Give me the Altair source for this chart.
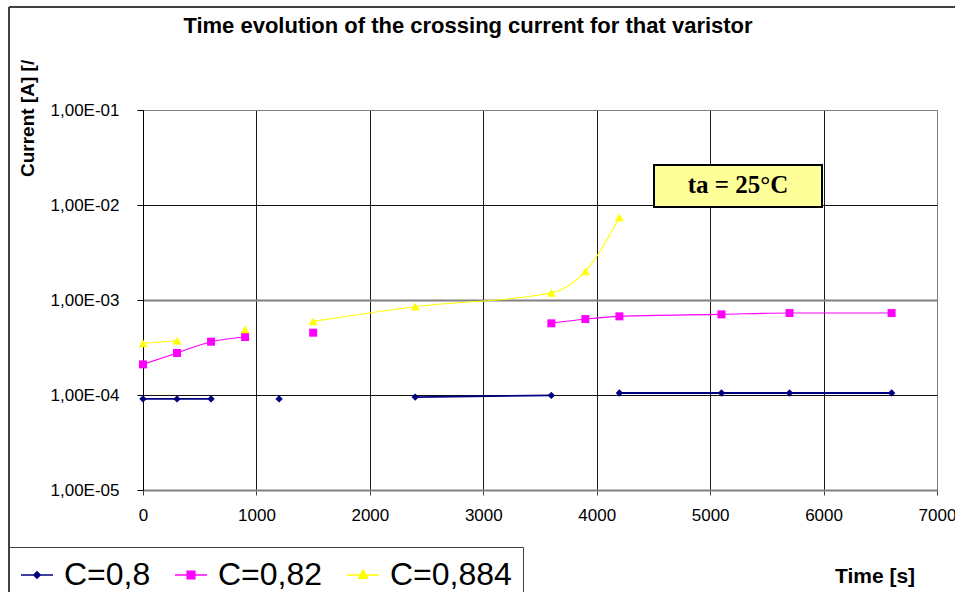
import altair as alt
import pandas as pd

# ---- data ----
times = [0, 300, 600, 900, 1200, 1500, 2400, 3600, 3900, 4200, 5100, 5700, 6600]
current_c08 = [9.1e-5, 9.1e-5, 9.1e-5, None, 9.1e-5, None, 9.5e-5, 9.9e-5, None, 1.05e-4, 1.05e-4, 1.05e-4, 1.05e-4]
current_c082 = [2.1e-4, 2.77e-4, 3.64e-4, 4.08e-4, None, 4.53e-4, None, 5.68e-4, 6.3e-4, 6.73e-4, 7.06e-4, 7.29e-4, 7.29e-4]
current_c0884 = [3.5e-4, 3.73e-4, None, 4.91e-4, None, 5.96e-4, 8.5e-4, 1.19e-3, 2.0e-3, 7.4e-3, None, None, None]

series_names = ["C=0,8", "C=0,82", "C=0,884"]
series_values = [current_c08, current_c082, current_c0884]
series_colors = ["#000080", "#FF00FF", "#FFFF00"]
series_shapes = ["diamond", "square", "triangle-up"]
line_widths = [1.8, 1.1, 1.1]
marker_sizes = [55, 64, 80]
legend_paths = [
    "M-1,0H1M0,-0.2L0.2,0L0,0.2L-0.2,0Z",
    "M-1,0H1M-0.24,-0.24H0.24V0.24H-0.24Z",
    "M-1,0H1M0,-0.3L0.28,0.2L-0.28,0.2Z",
]
y_ticks = [1e-5, 1e-4, 1e-3, 1e-2, 1e-1]
x_ticks = [0, 1000, 2000, 3000, 4000, 5000, 6000, 7000]

chart_title = "Time evolution of the crossing current for that varistor"
y_title = "Current [A] [/"
x_title = "Time [s]"
note_text = "ta = 25°C"

# ---- build long table; a missing value breaks the line ----
rows = []
for name, vals in zip(series_names, series_values):
    seg = 0
    for t, v in zip(times, vals):
        if v is None:
            seg += 1
            continue
        rows.append({"time": t, "current": v, "series": name, "segment": f"{name}-{seg}"})
df = pd.DataFrame(rows)
one = pd.DataFrame({"k": [0]})

FONT = "Liberation Sans"

x_scale = alt.Scale(domain=[0, 7000], nice=False, zero=False)
y_scale = alt.Scale(type="log", domain=[1e-5, 1e-1], nice=False)

x_axis = alt.Axis(
    values=x_ticks, title=None, format="d", labelFont=FONT, labelFontSize=17,
    labelColor="#000", labelPadding=12, tickSize=5, tickColor="#404040",
    domainColor="#808080", domainWidth=2, grid=True,
    gridColor={"condition": {"test": "datum.value >= 7000", "value": "#808080"}, "value": "#1a1a1a"},
    gridWidth=1, labelFlush=False, labelOverlap=False,
)
y_axis = alt.Axis(
    values=y_ticks, title=None,
    labelExpr="'1,00E-0' + round(-log(datum.value) / LN10)",
    labelFont=FONT, labelFontSize=17, labelColor="#000", labelPadding=18,
    tickSize=6, tickColor="#000", domainColor="#000", domainWidth=1, grid=True,
    gridColor={"condition": {"test": "datum.value >= 0.05 || (datum.value > 0.0005 && datum.value < 0.002)",
                             "value": "#808080"}, "value": "#111"},
    gridWidth={"condition": {"test": "datum.value > 0.0005 && datum.value < 0.002", "value": 2}, "value": 1},
    labelOverlap=False,
)

base = alt.Chart(df).encode(
    x=alt.X("time:Q", scale=x_scale, axis=x_axis),
    y=alt.Y("current:Q", scale=y_scale, axis=y_axis),
)

layers = []
# outer frame of the chart
layers.append(alt.Chart(one).mark_rule(color="#404040", strokeWidth=2).encode(
    x=alt.value(-134), y=alt.value(-103), y2=alt.value(490)))
layers.append(alt.Chart(one).mark_rule(color="#404040", strokeWidth=2).encode(
    x=alt.value(-134), x2=alt.value(812), y=alt.value(-103)))

for name, c, w in zip(series_names, series_colors, line_widths):
    layers.append(base.transform_filter(alt.datum.series == name)
                  .mark_line(color=c, strokeWidth=w, interpolate="monotone")
                  .encode(detail="segment:N"))
for name, c, s, sz in zip(series_names, series_colors, series_shapes, marker_sizes):
    layers.append(base.transform_filter(alt.datum.series == name)
                  .mark_point(filled=True, shape=s, size=sz, color=c, opacity=1))

legend = alt.Legend(
    title=None, orient="none", legendX=-134, legendY=437, direction="horizontal",
    labelFont=FONT, labelFontSize=32, labelColor="#000", labelOffset=10,
    columnPadding=21, padding=11, strokeColor="#404040", fillColor="#FFFFFF",
    symbolSize=1024, symbolStrokeWidth=1.5, labelLimit=300,
)
leg_df = pd.DataFrame({"series": series_names})
layers.append(alt.Chart(leg_df).mark_point(filled=True, size=1024, strokeWidth=1.5, opacity=1).encode(
    x=alt.value(-800), y=alt.value(-800),
    color=alt.Color("series:N", scale=alt.Scale(domain=series_names, range=series_colors), legend=legend),
    stroke=alt.Stroke("series:N", scale=alt.Scale(domain=series_names, range=series_colors), legend=legend),
    shape=alt.Shape("series:N", scale=alt.Scale(domain=series_names, range=legend_paths), legend=legend),
))

# annotation box
layers.append(alt.Chart(one).mark_rect(fill="#FFFF99", stroke="#000", strokeWidth=2).encode(
    x=alt.value(511), x2=alt.value(679), y=alt.value(55), y2=alt.value(97)))
layers.append(alt.Chart(one).mark_text(
    text=note_text, font="Liberation Serif", fontWeight="bold", fontSize=25,
    align="center", baseline="alphabetic", color="#000").encode(
    x=alt.value(595), y=alt.value(83)))

# titles
layers.append(alt.Chart(one).mark_text(
    text=chart_title, font=FONT, fontWeight="bold", fontSize=22,
    align="center", baseline="alphabetic", color="#000").encode(
    x=alt.value(325), y=alt.value(-77)))
layers.append(alt.Chart(one).mark_text(
    text=y_title, font=FONT, fontWeight="bold", fontSize=19, angle=270,
    align="left", baseline="alphabetic", color="#000").encode(
    x=alt.value(-109), y=alt.value(67)))
layers.append(alt.Chart(one).mark_text(
    text=x_title, font=FONT, fontWeight="bold", fontSize=21,
    align="center", baseline="alphabetic", color="#000").encode(
    x=alt.value(732), y=alt.value(473)))

chart = alt.layer(*layers).properties(
    width=794, height=380,
    autosize=alt.AutoSizeParams(type="none"),
    padding={"left": 143, "top": 110, "right": 18, "bottom": 102},
    background="#FFFFFF",
).configure_view(stroke=None)

chart.save("out.html", embed_options={"renderer": "svg", "actions": False})
